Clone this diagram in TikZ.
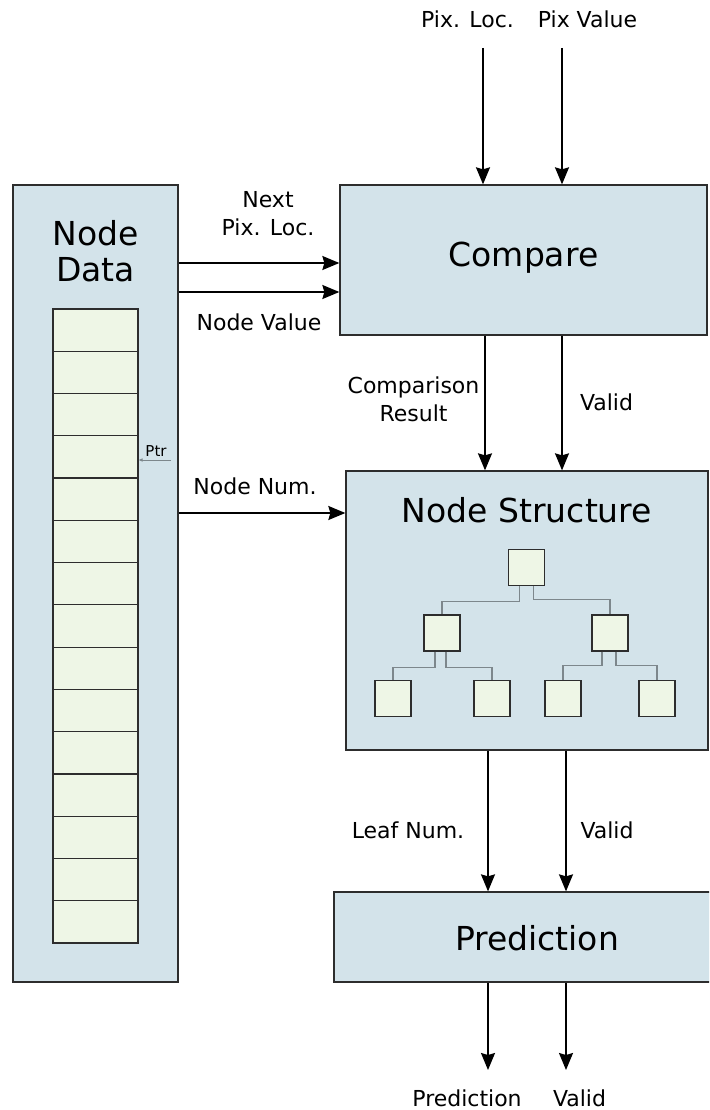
\documentclass[tikz,border=0pt]{standalone}
\usepackage{fontspec}
\setmainfont{DejaVu Sans}
\usetikzlibrary{arrows.meta}
\definecolor{boxfill}{RGB}{211,227,234}
\definecolor{cellfill}{RGB}{238,246,230}
\definecolor{edge}{RGB}{45,45,45}
\definecolor{treeline}{RGB}{125,135,140}
\begin{document}
\begin{tikzpicture}[x=1pt,y=-1pt,
  block/.style={draw=edge,line width=1.3pt,fill=boxfill,inner sep=0},
  title/.style={font=\fontsize{33}{36}\selectfont,align=center,inner sep=0},
  lbl/.style={font=\fontsize{22}{28}\selectfont,align=center,inner sep=0},
  arr/.style={-{Stealth[length=17pt,width=14pt,inset=2pt]},line width=1.6pt},
  cell/.style={draw=edge,fill=cellfill,line width=1.2pt,minimum width=85pt,minimum height=42.27pt,inner sep=0},
  leaf/.style={draw=edge,fill=cellfill,line width=1.2pt,minimum size=36pt,inner sep=0},
  tl/.style={draw=treeline,line width=1.2pt}]
\clip (0,0) rectangle (709,1110);
\fill[white] (0,0) rectangle (709,1110);

% main blocks
\node[block,minimum width=165pt,minimum height=797pt] (nd) at (95.5,583.5) {};
\node[block,minimum width=367pt,minimum height=150pt] (cmp) at (523.5,260) {};
\node[block,minimum width=362pt,minimum height=279pt] (ns) at (527,610.5) {};
\node[block,minimum width=406pt,minimum height=90pt] (pr) at (537,937) {};

\node[title] (ndt) at (95.5,251) {Node\\Data};
\node[title] (cmpt) at (523.5,258) {Compare};
\node[title] (nst) at (527,510) {Node Structure};
\node[title] (prt) at (537,938) {Prediction};

% memory column
\foreach \i in {1,...,15} {
  \node[cell] (c\i) at (95.5,{309+42.27*(\i-0.5)}) {};
}
\node[font=\fontsize{15}{17}\selectfont,inner sep=0] (ptr) at (156,451) {Ptr};
\coordinate (ptrend) at (171,460);
\draw[draw=treeline,line width=1pt,-{Triangle[length=4pt,width=3pt]}] (ptrend) -- (c4.east |- ptrend);

% tree inside the node structure block
\node[leaf] (r) at (526.5,567.5) {};
\node[leaf] (a) at (442,633) {};
\node[leaf] (b) at (610,633) {};
\node[leaf] (a1) at (393,698.5) {};
\node[leaf] (a2) at (492,698.5) {};
\node[leaf] (b1) at (563,698.5) {};
\node[leaf] (b2) at (657,698.5) {};
\draw[tl] ([xshift=-7pt]r.south) -- ++(0,15) -| (a.north);
\draw[tl] ([xshift=7pt]r.south) -- ++(0,13.5) -| (b.north);
\draw[tl] ([xshift=-7pt]a.south) -- ++(0,16) -| (a1.north);
\draw[tl] ([xshift=4pt]a.south) -- ++(0,16) -| (a2.north);
\draw[tl] ([xshift=-8pt]b.south) -- ++(0,14) -| (b1.north);
\draw[tl] ([xshift=6pt]b.south) -- ++(0,14) -| (b2.north);

% inputs
\coordinate (in1) at (483,48);
\coordinate (in2) at (562,48);
\node[lbl] (l1) at (467.5,19) {Pix. Loc.};
\node[lbl] (l2) at (587.5,19) {Pix Value};
\draw[arr] (in1) -- (cmp.north -| in1);
\draw[arr] (in2) -- (cmp.north -| in2);

% node data to compare / node structure
\coordinate (y1) at (0,263);
\coordinate (y2) at (0,292);
\coordinate (y3) at (0,513);
\draw[arr] (nd.east |- y1) -- (cmp.west |- y1);
\draw[arr] (nd.east |- y2) -- (cmp.west |- y2);
\draw[arr] (nd.east |- y3) -- (ns.west |- y3);
\node[lbl] (l3) at (268,214) {Next\\Pix. Loc.};
\node[lbl] (l4) at (259,322) {Node Value};
\node[lbl] (l5) at (255,486) {Node Num.};

% compare to node structure
\coordinate (xa) at (485,0);
\coordinate (xb) at (562,0);
\draw[arr] (cmp.south -| xa) -- (ns.north -| xa);
\draw[arr] (cmp.south -| xb) -- (ns.north -| xb);
\node[lbl] (l6) at (413.5,399) {Comparison\\Result};
\node[lbl] (l7) at (606.5,402) {Valid};

% node structure to prediction
\coordinate (xc) at (488,0);
\coordinate (xd) at (566,0);
\draw[arr] (ns.south -| xc) -- (pr.north -| xc);
\draw[arr] (ns.south -| xd) -- (pr.north -| xd);
\node[lbl] (l8) at (408,830) {Leaf Num.};
\node[lbl] (l9) at (607,830) {Valid};

% outputs
\coordinate (out1) at (488,1070);
\coordinate (out2) at (566,1070);
\draw[arr] (pr.south -| out1) -- (out1);
\draw[arr] (pr.south -| out2) -- (out2);
\node[lbl] (l10) at (467,1098) {Prediction};
\node[lbl] (l11) at (579.5,1098) {Valid};
\end{tikzpicture}
\end{document}
